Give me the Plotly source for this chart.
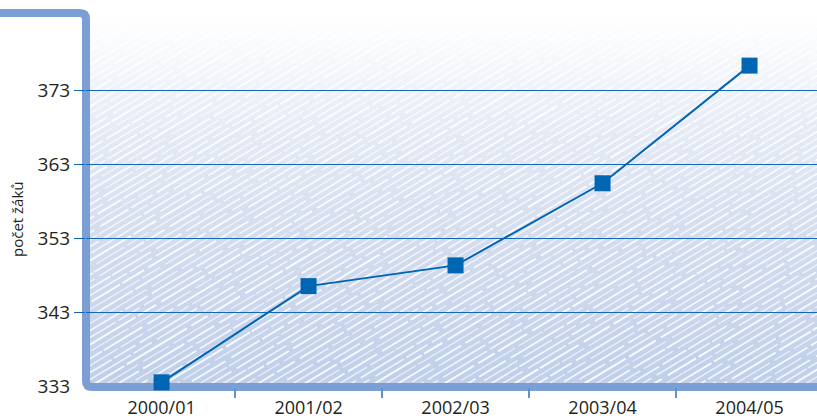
import base64
import math
import plotly.graph_objects as go

# ---- data ----
categories = ["2000/01", "2001/02", "2002/03", "2003/04", "2004/05"]
pupils = [333.5, 346.5, 349.3, 360.4, 376.3]
y_tick_values = [333, 343, 353, 363, 373]
grid_values = [343, 353, 363, 373]
y_title = "počet žáků"

# ---- geometry (pixels) ----
W, H = 817, 416
L, R, T, B = 86, 0, 13, 29
pw = W - L - R
ph = H - T - B

x_idx = list(range(len(categories)))
boundaries = [i + 0.5 for i in range(len(categories) - 1)]
x_range = [-0.514, 4.459]
y_range = [332.865, 383.41]

LINE_BLUE = "#0065b3"
GRID_BLUE = "#1466b6"
BORDER = "#7b9fd3"
FONT = "Open Sans"


def px(x):
    return (x - L) / pw


def py(y):
    return (H - B - y) / ph


# ---- decorative hatched, gradient background (SVG) ----
dash_styles = ["48 4 31 6 62 3 26 5", "25 5 67 4 39 7 33 3", "58 3 21 6 51 4 37 2",
               "34 6 44 3 70 5 19 4", "63 4 28 2 45 6 30 5"]
widths = [1.8, 1.3, 1.7, 1.5, 1.9, 1.2]
opac = [0.95, 0.8, 0.9, 0.85, 1.0, 0.75]
ang = math.radians(31)
dy = 6.0 / math.cos(ang)
span = pw + 100
rise = span * math.tan(ang)
lines = []
n = int((ph + rise) / dy) + 2
for k in range(n):
    y_start = k * dy
    lines.append(
        f'<line x1="-50" y1="{y_start:.2f}" x2="{pw + 50}" y2="{y_start - rise:.2f}" '
        f'stroke="#ffffff" stroke-width="{widths[k % len(widths)]}" '
        f'stroke-opacity="{opac[k % len(opac)]}" stroke-dasharray="{dash_styles[k % len(dash_styles)]}" '
        f'stroke-dashoffset="{(k * 37) % 180}"/>'
    )

svg = f'''<svg xmlns="http://www.w3.org/2000/svg" width="{pw}" height="{ph}" viewBox="0 0 {pw} {ph}">
<defs>
<linearGradient id="g" x1="0" y1="0" x2="0" y2="1">
<stop offset="0" stop-color="#ffffff"/>
<stop offset="0.06" stop-color="#fbfcfe"/>
<stop offset="0.3" stop-color="#e6ebf5"/>
<stop offset="0.6" stop-color="#d4ddef"/>
<stop offset="1" stop-color="#bfcfea"/>
</linearGradient>
</defs>
<rect width="100%" height="100%" fill="url(#g)"/>
<g opacity="0.9">{''.join(lines)}</g>
</svg>'''
svg_uri = "data:image/svg+xml;base64," + base64.b64encode(svg.encode()).decode()

fig = go.Figure()
fig.add_trace(go.Scatter(
    x=x_idx, y=pupils, mode="lines+markers",
    line=dict(color=LINE_BLUE, width=2),
    marker=dict(symbol="square", size=16, color=LINE_BLUE),
    cliponaxis=False, showlegend=False, hoverinfo="skip",
))
# invisible trace for the overlay axes
fig.add_trace(go.Scatter(x=[x_idx[0]], y=[pupils[0]], xaxis="x2", yaxis="y2",
                         mode="markers", marker=dict(opacity=0), showlegend=False, hoverinfo="skip"))

r = 6
border_path = (
    f"M {px(0)},{py(13)} L {px(L - r)},{py(13)} Q {px(L)},{py(13)} {px(L)},{py(13 + r)} "
    f"L {px(L)},{py(H - B - r)} Q {px(L)},{py(H - B)} {px(L + r)},{py(H - B)} "
    f"L {px(W)},{py(H - B)}"
)

fig.update_layout(
    width=W, height=H,
    margin=dict(l=L, r=R, t=T, b=B, pad=0, autoexpand=False),
    paper_bgcolor="white", plot_bgcolor="rgba(0,0,0,0)",
    font=dict(family=FONT, color="#231f20"),
    xaxis=dict(range=x_range, tickvals=x_idx, ticktext=categories, automargin=False,
               ticks="outside", ticklen=4, tickcolor="rgba(0,0,0,0)",
               showgrid=False, zeroline=False, showline=False,
               tickfont=dict(size=18, family=FONT, color="#231f20")),
    xaxis2=dict(range=x_range, overlaying="x", anchor="y", side="bottom", automargin=False,
                tickvals=boundaries, ticks="outside", ticklen=10, tickwidth=1.5,
                tickcolor="#5f92d2", showticklabels=False,
                showgrid=False, zeroline=False, showline=False),
    yaxis=dict(range=y_range, tickvals=y_tick_values, ticktext=[str(v) for v in y_tick_values],
               ticks="outside", ticklen=11, tickcolor="rgba(0,0,0,0)", automargin=False,
               showgrid=False, zeroline=False, showline=False,
               tickfont=dict(size=19, family=FONT, color="#231f20")),
    yaxis2=dict(range=y_range, overlaying="y", anchor="x", side="left", automargin=False,
                tickvals=grid_values, ticks="outside", ticklen=11, tickcolor=GRID_BLUE,
                showticklabels=False, showgrid=True, gridcolor=GRID_BLUE, gridwidth=1,
                zeroline=False, showline=False),
    images=[dict(source=svg_uri, xref="paper", yref="paper", x=0, y=1,
                 sizex=1, sizey=1, sizing="stretch", xanchor="left", yanchor="top",
                 layer="below")],
    shapes=[dict(type="path", xref="paper", yref="paper", path=border_path,
                 line=dict(color=BORDER, width=8), layer="below")],
    annotations=[dict(text=y_title, xref="paper", yref="paper", x=px(17), y=py(219),
                      xanchor="center", yanchor="middle", textangle=-90, showarrow=False,
                      font=dict(size=15, family=FONT, color="#231f20"))],
)

fig.write_html("out.html", config={"displayModeBar": False},
               post_script="document.body.style.margin='0';document.body.style.overflow='hidden';")
